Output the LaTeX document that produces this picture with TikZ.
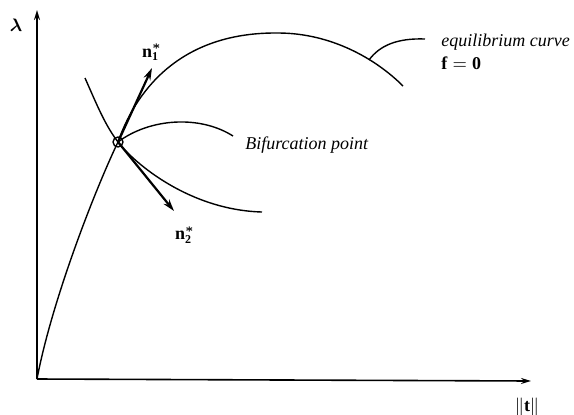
\documentclass[tikz,border=0pt]{standalone}
\usepackage{amsmath}
\usepackage{amssymb}
\usepackage{fontspec}
\setmainfont{Liberation Serif}
\usepackage{tikz}
\usetikzlibrary{arrows.meta}

\begin{document}
\begin{tikzpicture}[x=0.5pt,y=-0.5pt,line join=round,
    curve/.style={line width=0.7pt},
    vec/.style={line width=1.1pt,-{Stealth[length=6pt,width=3.6pt]}},
    axis/.style={line width=0.8pt,-{Stealth[length=5pt,width=3pt]}},
    lbl/.style={font=\fontsize{9}{11}\selectfont\itshape,inner sep=0pt}]
  \useasboundingbox (0,0) rectangle (574,414);
  % axes
  \coordinate (O) at (37,379);
  \coordinate (ytop) at (37,10);
  \coordinate (xend) at (531,381);
  \draw[axis] (O) -- (ytop);
  \draw[axis] (O) -- (xend);
  \node[font=\small] (lam) at (16,25) {$\boldsymbol{\lambda}$};
  \node[font=\small] (tnorm) at (527,407) {$\|\mathbf{t}\|$};
  % bifurcation point and the branches through it
  \node[circle,draw,line width=0.7pt,inner sep=0pt,minimum size=5pt] (bif) at (118,142) {};
  \coordinate (top) at (278,33);
  \coordinate (eqend) at (403,86);
  \draw[curve] (O) .. controls (52,300) and (95,190) .. (bif.center)
    .. controls (138,85) and (185,32) .. (top)
    .. controls (330,33) and (375,58) .. (eqend);
  \coordinate (crossA) at (85,78);
  \coordinate (crossB) at (262,212);
  \draw[curve] (crossA) .. controls (97,105) and (105,125) .. (bif.center)
    .. controls (135,164) and (190,210) .. (crossB);
  \coordinate (sideend) at (233,136);
  \draw[curve] (bif.center) .. controls (150,118) and (200,115) .. (sideend);
  % eigenvectors
  \coordinate (n1tip) at (152,68);
  \coordinate (n2tip) at (174,211);
  \draw[vec] (bif.center) -- (n1tip);
  \draw[vec] (bif.center) -- (n2tip);
  \node[font=\small] (n1) at (152,52) {$\mathbf{n}^{\boldsymbol{*}}_{\mathbf{1}}$};
  \node[font=\small] (n2) at (185,235) {$\mathbf{n}^{\boldsymbol{*}}_{\mathbf{2}}$};
  % labels
  \node[lbl,anchor=west] (biflbl) at (245,145) {Bifurcation point};
  \node[lbl,anchor=west] (eqlbl) at (441,42) {equilibrium curve};
  \node[font=\small,inner sep=0pt,anchor=west] (fzero) at (441,63) {$\mathbf{f}=\mathbf{0}$};
  \coordinate (eqtail) at (425,39);
  \coordinate (eqhit) at (369,60);
  \draw[curve] (eqtail) .. controls (398,38) and (380,45) .. (eqhit);
\end{tikzpicture}
\end{document}
